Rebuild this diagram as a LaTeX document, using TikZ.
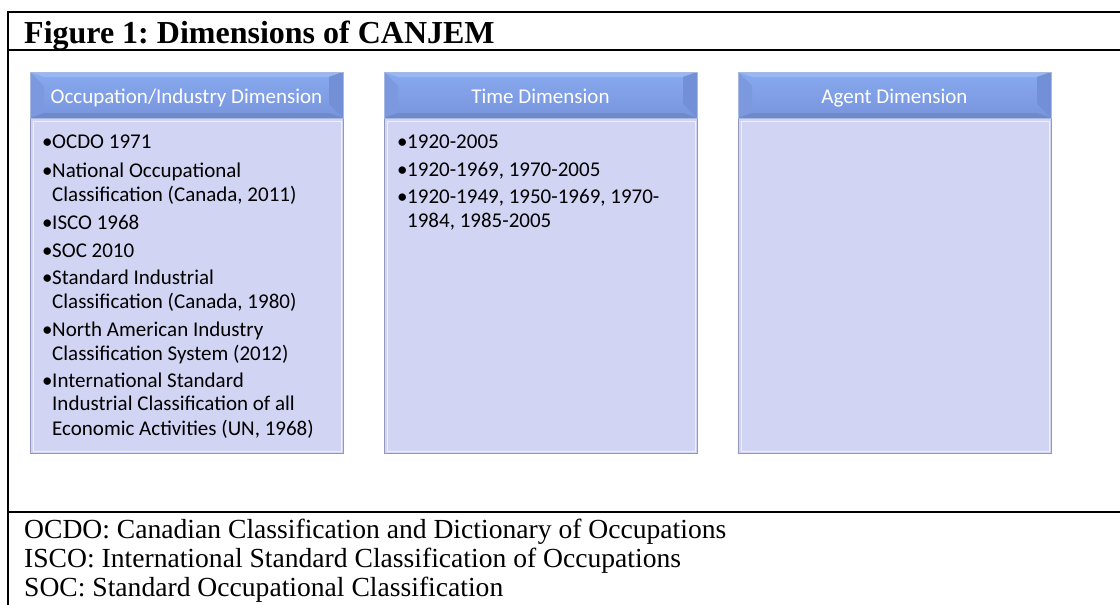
\documentclass[tikz,border=0pt]{standalone}
\usepackage{fontspec}
\setmainfont{Liberation Serif}
\newfontfamily\calfont{Carlito}
\usetikzlibrary{calc}
\frenchspacing
\definecolor{hdrtop}{HTML}{88A9EF}
\definecolor{hdrbot}{HTML}{7895DC}
\definecolor{hdrlight}{HTML}{97B8F7}
\definecolor{hdrleft}{HTML}{7C98DE}
\definecolor{hdrright}{HTML}{738FD6}
\definecolor{hdrbottom}{HTML}{6F89CB}
\definecolor{hdredge}{HTML}{A7B9E2}
\definecolor{bodyfill}{HTML}{D1D4F2}
\definecolor{bodyedge}{HTML}{9397BD}
\definecolor{bodyhi}{HTML}{EEF0FB}
\newcommand\blt{\makebox[10pt][l]{\textbullet}}
\newcommand\lst[1]{\begin{tabular}[t]{@{}l@{}l@{}}#1\end{tabular}}
\tikzset{
  frameline/.style={line width=2.4pt, black},
  hdr/.style={rectangle, minimum width=313pt, minimum height=46pt, inner sep=0pt,
    text height=17pt, text depth=1pt,
    top color=hdrtop, bottom color=hdrbot, draw=hdredge, line width=0.6pt,
    font=\calfont\fontsize{21}{24}\selectfont, text=white,
    path picture={
      \fill[hdrlight] (path picture bounding box.north west) -- (path picture bounding box.north east)
        -- ([xshift=-14pt,yshift=-5pt]path picture bounding box.north east)
        -- ([xshift=14pt,yshift=-5pt]path picture bounding box.north west) -- cycle;
      \fill[hdrleft] (path picture bounding box.north west) -- ([xshift=14pt,yshift=-14pt]path picture bounding box.north west)
        -- ([xshift=14pt,yshift=5pt]path picture bounding box.south west)
        -- (path picture bounding box.south west) -- cycle;
      \fill[hdrright] (path picture bounding box.north east) -- ([xshift=-14pt,yshift=-5pt]path picture bounding box.north east)
        -- ([xshift=-14pt,yshift=14pt]path picture bounding box.south east)
        -- (path picture bounding box.south east) -- cycle;
      \fill[hdrbottom] (path picture bounding box.south west) -- ([xshift=14pt,yshift=5pt]path picture bounding box.south west)
        -- ([xshift=-14pt,yshift=5pt]path picture bounding box.south east)
        -- (path picture bounding box.south east) -- cycle;
    }},
  bodybox/.style={rectangle, minimum width=313pt, minimum height=335pt, inner sep=0pt,
    fill=bodyfill, draw=bodyedge, line width=1.2pt, anchor=north west,
    path picture={
      \draw[bodyhi, line width=1pt] ([xshift=2.5pt,yshift=2.5pt]path picture bounding box.south west)
        rectangle ([xshift=-2.5pt,yshift=-2.5pt]path picture bounding box.north east);
    }},
  listtext/.style={anchor=base west, inner sep=0pt, font=\calfont\fontsize{21}{24}\selectfont, text=black},
  foot/.style={anchor=base west, inner sep=0pt, font=\fontsize{27.6}{29}\selectfont},
  ttl/.style={anchor=base west, inner sep=0pt, font=\bfseries\fontsize{32}{36}\selectfont}
}
\begin{document}
\begin{tikzpicture}[x=1pt,y=-1pt]
\useasboundingbox (0,0) rectangle (1120,605);
% frame
\draw[frameline] (8,605) -- (8,12) -- (1120,12);
\draw[frameline] (8,50) -- (1120,50);
\draw[frameline] (8,512) -- (1120,512);
\node[ttl] (title) at (24,43) {Figure 1: Dimensions of CANJEM};
% boxes
\node[bodybox] (b1) at (30,118) {};
\node[bodybox] (b2) at (384,118) {};
\node[bodybox] (b3) at (738,118) {};
\node[hdr] (h1) at (186.5,95) {Occupation/Industry Dimension};
\node[hdr] (h2) at (540.5,95) {Time Dimension};
\node[hdr] (h3) at (894.5,95) {Agent Dimension};
% lists
\node[listtext] (l1) at (42,148) {\lst{%
\blt & OCDO 1971\\[5pt]
\blt & National Occupational\\
 & Classification (Canada, 2011)\\[4pt]
\blt & ISCO 1968\\[4pt]
\blt & SOC 2010\\[3pt]
\blt & Standard Industrial\\
 & Classification (Canada, 1980)\\[4pt]
\blt & North American Industry\\
 & Classification System (2012)\\[3pt]
\blt & International Standard\\
 & Industrial Classification of all\\
 & Economic Activities (UN, 1968)}};
\node[listtext] (l2) at (397,148) {\lst{%
\blt & 1920-2005\\[4pt]
\blt & 1920-1969, 1970-2005\\[3pt]
\blt & 1920-1949, 1950-1969, 1970-\\
 & 1984, 1985-2005}};
% footnotes
\node[foot] (f1) at (24,538) {OCDO: Canadian Classification and Dictionary of Occupations};
\node[foot] (f2) at (24,567) {ISCO: International Standard Classification of Occupations};
\node[foot] (f3) at (24,596) {SOC: Standard Occupational Classification};
\end{tikzpicture}
\end{document}
